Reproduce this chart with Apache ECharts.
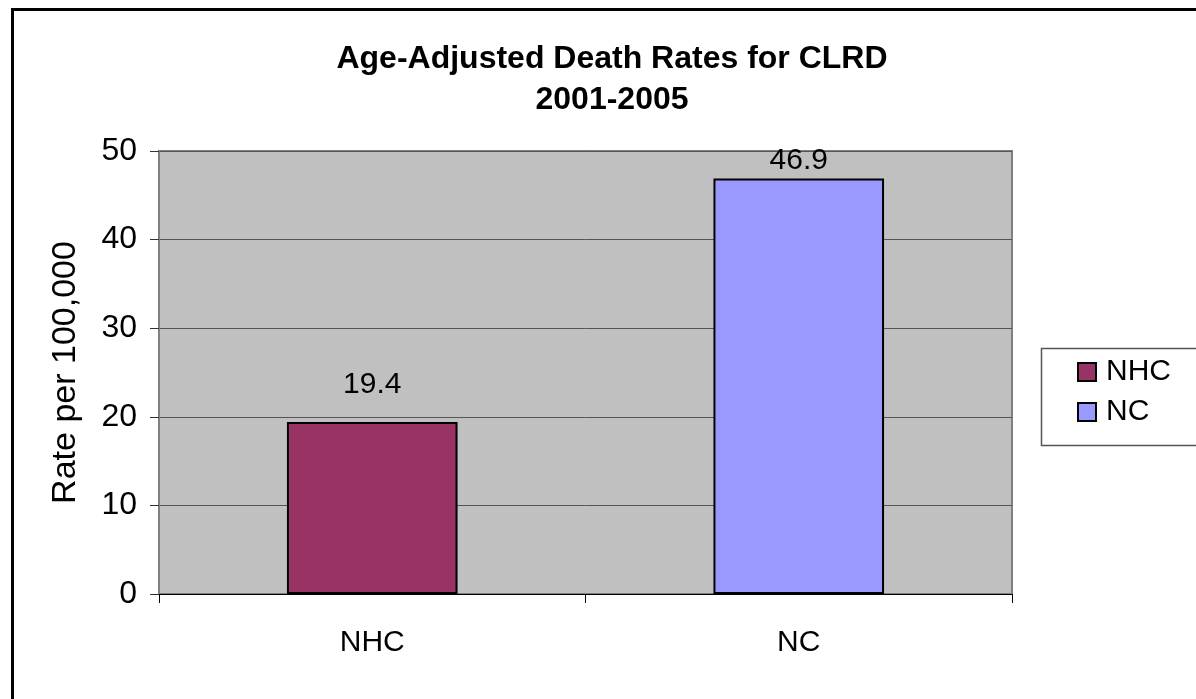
<!DOCTYPE html>
<html>
<head>
<meta charset="utf-8">
<script src="https://cdn.jsdelivr.net/npm/echarts@6/dist/echarts.min.js"></script>
<style>
  html, body { margin: 0; padding: 0; background: #fff; }
  #main { width: 1196px; height: 699px; }
</style>
</head>
<body>
<div id="main"></div>
<script>
// data
var categories = ['NHC', 'NC'];
var rates = [19.4, 46.9];
var barColors = ['#993366', '#9999FF'];
var yTicks = [0, 10, 20, 30, 40, 50];

var chart = echarts.init(document.getElementById('main'));
var font = 'Arial, "Liberation Sans", sans-serif';

// one series per category so the legend shows both
var series = categories.map(function (name, i) {
    var values = categories.map(function (c, j) { return j === i ? rates[i] : '-'; });
    return {
        name: name,
        type: 'bar',
        stack: 'all',
        barWidth: '40%',
        itemStyle: { color: barColors[i], borderColor: '#000', borderWidth: 2 },
        label: {
            show: true,
            position: 'top',
            distance: i === 0 ? 22 : 3,
            color: '#000',
            fontSize: 30,
            fontFamily: font
        },
        data: values
    };
});

var option = {
    backgroundColor: '#fff',
    animation: false,
    title: {
        text: 'Age-Adjusted Death Rates for CLRD\n2001-2005',
        left: 607,
        textAlign: 'center',
        top: 34,
        textStyle: { fontSize: 32, fontWeight: 'bold', fontFamily: font, color: '#000', lineHeight: 41 }
    },
    legend: {
        data: categories,
        orient: 'vertical',
        left: 1077,
        top: 357,
        padding: 0,
        itemWidth: 18,
        itemHeight: 18,
        itemGap: 10,
        icon: 'rect',
        itemStyle: { borderColor: '#000', borderWidth: 2 },
        textStyle: { fontSize: 30, fontFamily: font, color: '#000', padding: [0, 0, 0, 5] }
    },
    grid: {
        left: 159,
        right: 184,
        top: 151,
        bottom: 105,
        show: true,
        backgroundColor: '#C0C0C0',
        borderColor: '#808080',
        borderWidth: 2
    },
    xAxis: {
        type: 'category',
        data: categories,
        axisLine: { lineStyle: { color: '#000', width: 1 } },
        axisTick: { show: true, length: 9, lineStyle: { color: '#000' } },
        axisLabel: { fontSize: 30, fontFamily: font, color: '#000', margin: 34 }
    },
    yAxis: {
        type: 'value',
        min: yTicks[0],
        max: yTicks[yTicks.length - 1],
        interval: 10,
        name: 'Rate per 100,000',
        nameLocation: 'middle',
        nameGap: 76,
        nameTextStyle: { fontSize: 34, fontFamily: font, color: '#000' },
        axisLine: { show: true, lineStyle: { color: '#808080', width: 2 } },
        axisTick: { show: true, length: 9, lineStyle: { color: '#333' } },
        axisLabel: { fontSize: 32, fontFamily: font, color: '#000', margin: 22 },
        splitLine: { lineStyle: { color: '#555', width: 1 } }
    },
    graphic: [
        {
            type: 'rect',
            left: 10, top: 7,
            shape: { width: 1200, height: 720 },
            style: { fill: 'none', stroke: '#000', lineWidth: 3 },
            silent: true
        },
        {
            type: 'rect',
            left: 1039, top: 346,
            shape: { width: 170, height: 97 },
            style: { fill: 'none', stroke: '#555', lineWidth: 1.5 },
            silent: true
        }
    ],
    series: series
};

chart.setOption(option);
</script>
</body>
</html>
